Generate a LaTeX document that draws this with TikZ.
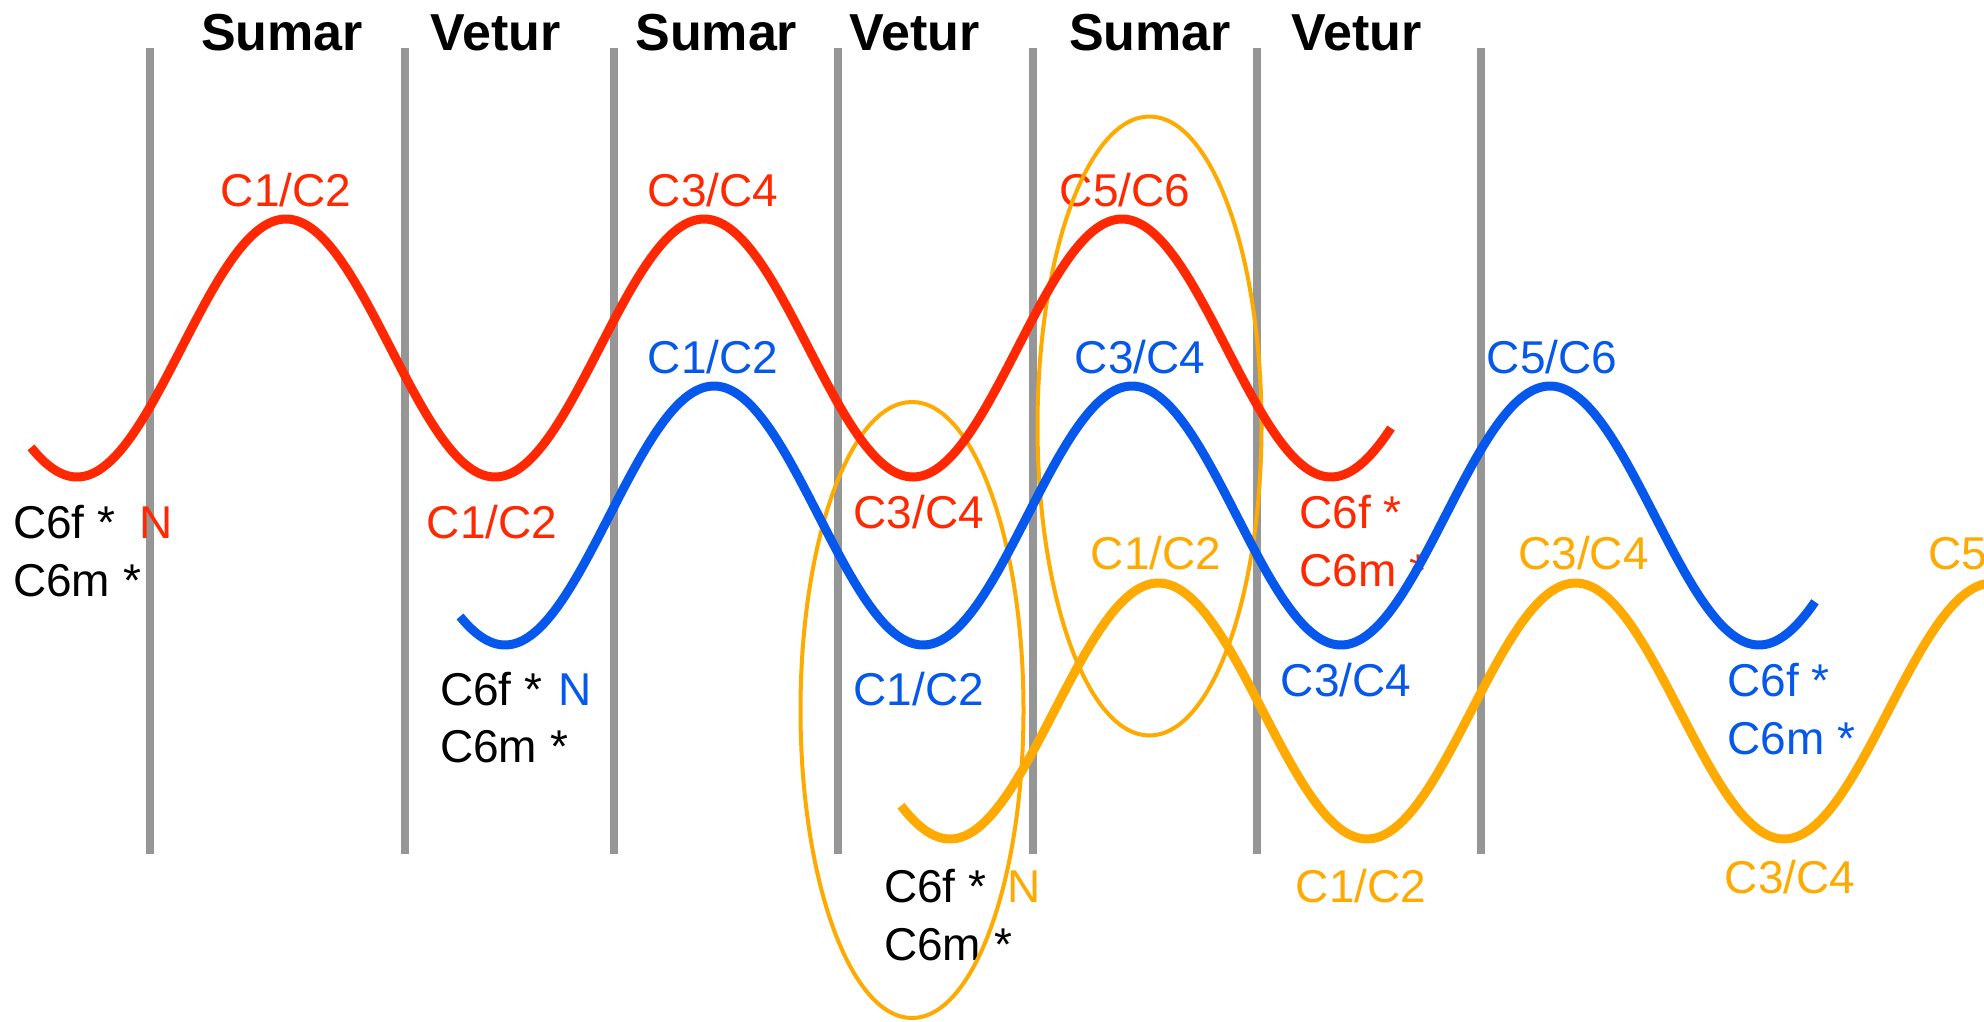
\documentclass[tikz,border=0pt]{standalone}
\usepackage{fontspec}
\setmainfont{Liberation Sans}
\definecolor{wred}{RGB}{255,40,0}
\definecolor{wblue}{RGB}{5,88,235}
\definecolor{worange}{RGB}{255,170,0}
\definecolor{divgray}{RGB}{150,150,150}
\begin{document}
\begin{tikzpicture}[x=1pt,y=-1pt,
  sep/.style={draw=divgray, line width=7.5pt},
  hdr/.style={font=\fontsize{52}{60}\selectfont\bfseries, anchor=base, inner sep=0pt},
  lbl/.style={font=\fontsize{46}{55}\selectfont, inner sep=0pt, anchor=base},
  lblw/.style={font=\fontsize{46}{55}\selectfont, inner sep=0pt, anchor=base west},
  wave/.style={line width=9pt, line join=round},
  ring/.style={draw=worange, line width=4pt}]
\useasboundingbox (0,0) rectangle (1984,1021);
\clip (0,0) rectangle (1984,1021);
\fill[white] (0,0) rectangle (1984,1021);

% season dividers
\foreach \i/\x in {1/150,2/405,3/614,4/838,5/1033,6/1257,7/1481}{
  \coordinate (t\i) at (\x,48);
  \coordinate (b\i) at (\x,854);
  \draw[sep] (t\i) -- (b\i);
}

% headers
\node[hdr] (h1) at (282,50.7) {Sumar};
\node[hdr] (h2) at (495.5,50.7) {Vetur};
\node[hdr] (h3) at (716.3,50.7) {Sumar};
\node[hdr] (h4) at (914.6,50.7) {Vetur};
\node[hdr] (h5) at (1150,50.7) {Sumar};
\node[hdr] (h6) at (1356.7,50.7) {Vetur};

% red labels
\node[lbl, text=wred] (rA) at (286,206) {C1/C2};
\node[lbl, text=wred] (rB) at (713,206) {C3/C4};
\node[lbl, text=wred] (rC) at (1125,206) {C5/C6};
\node[lbl, text=wred] (rD) at (492,538.6) {C1/C2};
\node[lbl, text=wred] (rE) at (918.7,528.7) {C3/C4};
\node[lblw, text=wred] (rF) at (1299,528.7) {C6f *};
\node[lblw, text=wred] (rG) at (1299,586) {C6m *};
\node[lblw] (rH) at (13,538.6) {C6f *};
\node[lblw, text=wred] (rN) at (139,538.6) {N};
\node[lblw] (rI) at (13,596) {C6m *};

% blue labels
\node[lbl, text=wblue] (bA) at (713,373) {C1/C2};
\node[lbl, text=wblue] (bB) at (1140,373) {C3/C4};
\node[lbl, text=wblue] (bC) at (1552,373) {C5/C6};
\node[lbl, text=wblue] (bD) at (918.7,705) {C1/C2};
\node[lbl, text=wblue] (bE) at (1346,696.5) {C3/C4};
\node[lblw, text=wblue] (bF) at (1727,696) {C6f *};
\node[lblw, text=wblue] (bG) at (1727,754.5) {C6m *};
\node[lblw] (bH) at (440,705) {C6f *};
\node[lblw, text=wblue] (bN) at (558,705) {N};
\node[lblw] (bI) at (440,762) {C6m *};

% orange labels
\node[lbl, text=worange] (oA) at (1156,569.5) {C1/C2};
\node[lbl, text=worange] (oB) at (1583.5,569.5) {C3/C4};
\node[lblw, text=worange] (oC) at (1928.5,569.5) {C5/C6};
\node[lbl, text=worange] (oD) at (1361,902) {C1/C2};
\node[lbl, text=worange] (oE) at (1790,893) {C3/C4};
\node[lblw] (oH) at (884,902) {C6f *};
\node[lblw, text=worange] (oN) at (1007,902) {N};
\node[lblw] (oI) at (884,960) {C6m *};

% ellipses
\draw[ring] (912,710) ellipse [x radius=111.5, y radius=308];
\draw[ring] (1149.5,426) ellipse [x radius=112, y radius=309.5];

% waves (angle factor 360/period)
\draw[wave, draw=wred] plot[domain=31:1391, samples=260, smooth]
  (\x, {348+129*cos((\x-77)*0.861244)});
\draw[wave, draw=wblue] plot[domain=460:1815, samples=260, smooth]
  (\x, {515.5+129.5*cos((\x-505)*0.861244)});
\draw[wave, draw=worange] plot[domain=901:1990, samples=220, smooth]
  (\x, {711+128*cos((\x-950)*0.863309)});
\end{tikzpicture}
\end{document}
